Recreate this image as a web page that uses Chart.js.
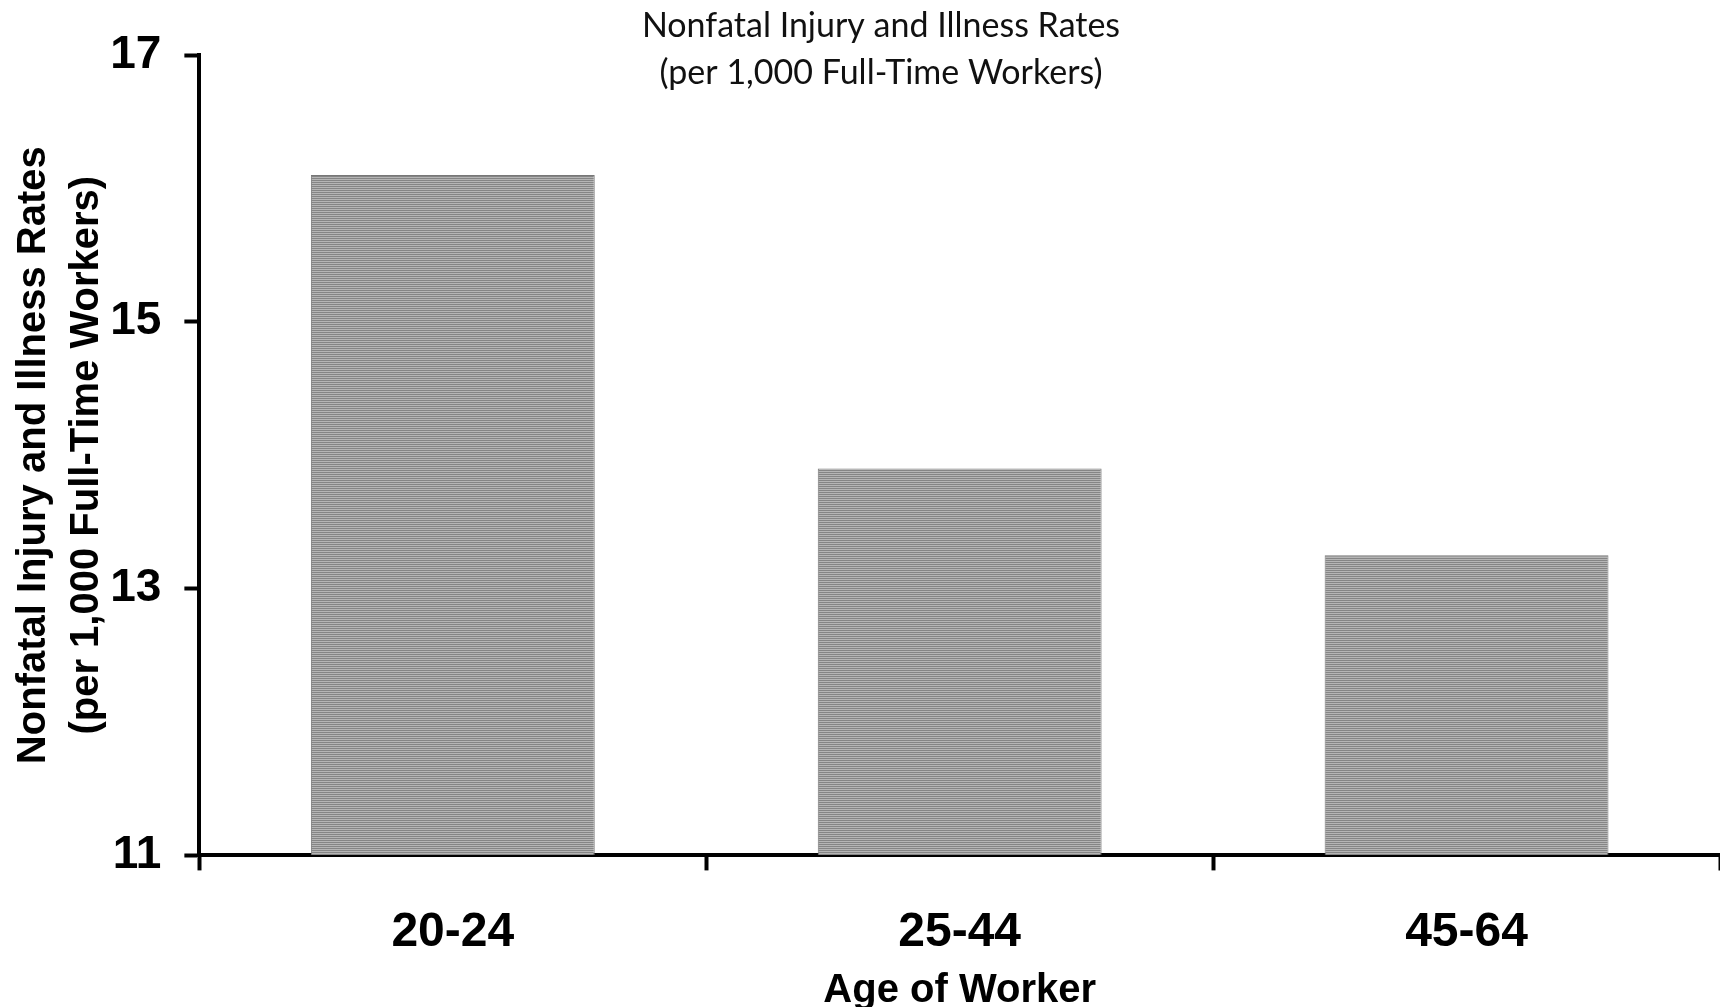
<!DOCTYPE html>
<html lang="en">
<head>
<meta charset="UTF-8">
<title>Nonfatal Injury and Illness Rates by Age</title>
<script src="https://cdn.jsdelivr.net/npm/chart.js"></script>
<style>
  html, body { margin: 0; padding: 0; background: #fff; }
  #wrap { width: 1720px; height: 1007px; }
</style>
</head>
<body>
<div id="wrap"><canvas id="rateChart"></canvas></div>
<script>
// Rates per 1,000 full-time workers, by age group
const ageGroups = ['20-24', '25-44', '45-64'];
const injuryRates = [16.1, 13.9, 13.25];
const rateTicks = [11, 13, 15, 17];

const chartTitle = ['Nonfatal Injury and Illness Rates', '(per 1,000 Full-Time Workers)'];
const yTitle = ['Nonfatal Injury and Illness Rates', '(per 1,000 Full-Time Workers)'];
const xTitle = 'Age of Worker';

const boldFont = 'Liberation Sans, Arial, sans-serif';

// grey striped fill for the bars
function stripeFill() {
    const c = document.createElement('canvas');
    c.width = 4; c.height = 4;
    const g = c.getContext('2d');
    g.fillStyle = '#b5b5b5';
    g.fillRect(0, 0, 4, 4);
    g.fillStyle = '#858585';
    g.fillRect(0, 0, 4, 1);
    g.fillRect(0, 2, 4, 1);
    return g.createPattern(c, 'repeat');
}

// two-line heading drawn over the top of the plot
const topTitle = {
    id: 'topTitle',
    afterDraw(chart) {
        const ctx = chart.ctx;
        ctx.save();
        ctx.font = '34px Lato, sans-serif';
        ctx.fillStyle = '#111';
        ctx.textAlign = 'center';
        ctx.textBaseline = 'middle';
        ctx.fillText(chartTitle[0], 881, 26);
        ctx.fillText(chartTitle[1], 881, 73);
        ctx.restore();
    }
};

const ctx = document.getElementById('rateChart').getContext('2d');
const rateChart = new Chart(ctx, {
    type: 'bar',
    data: {
        labels: ageGroups,
        datasets: [{
            data: injuryRates,
            base: rateTicks[0],
            backgroundColor: stripeFill(),
            borderColor: '#777',
            borderWidth: 1,
            categoryPercentage: 1,
            barPercentage: 0.56
        }]
    },
    options: {
        responsive: true,
        maintainAspectRatio: false,
        animation: false,
        layout: { padding: { top: 55, right: 0, bottom: 0, left: 0 } },
        plugins: {
            legend: { display: false },
            tooltip: { enabled: false }
        },
        scales: {
            x: {
                grid: { drawOnChartArea: false, tickLength: 15, tickWidth: 4, color: '#000' },
                border: { color: '#000', width: 4 },
                ticks: {
                    color: '#000',
                    padding: 34,
                    font: { family: boldFont, size: 48, weight: 'bold' }
                },
                title: {
                    display: true,
                    text: xTitle,
                    color: '#000',
                    font: { family: boldFont, size: 40, weight: 'bold', lineHeight: 1 },
                    padding: { top: -25, bottom: -4 }
                }
            },
            y: {
                min: rateTicks[0],
                max: rateTicks[rateTicks.length - 1],
                afterBuildTicks: axis => {
                    axis.ticks = rateTicks.map(v => ({ value: v }));
                },
                grid: { drawOnChartArea: false, tickLength: 15, tickWidth: 4, color: '#000' },
                border: { color: '#000', width: 4 },
                ticks: {
                    color: '#000',
                    padding: 23,
                    font: { family: boldFont, size: 46, weight: 'bold' }
                },
                title: {
                    display: true,
                    text: yTitle,
                    color: '#000',
                    font: { family: boldFont, size: 40, weight: 'bold', lineHeight: 1.34 },
                    padding: { top: 7, bottom: -27 }
                }
            }
        }
    },
    plugins: [topTitle]
});
</script>
</body>
</html>
